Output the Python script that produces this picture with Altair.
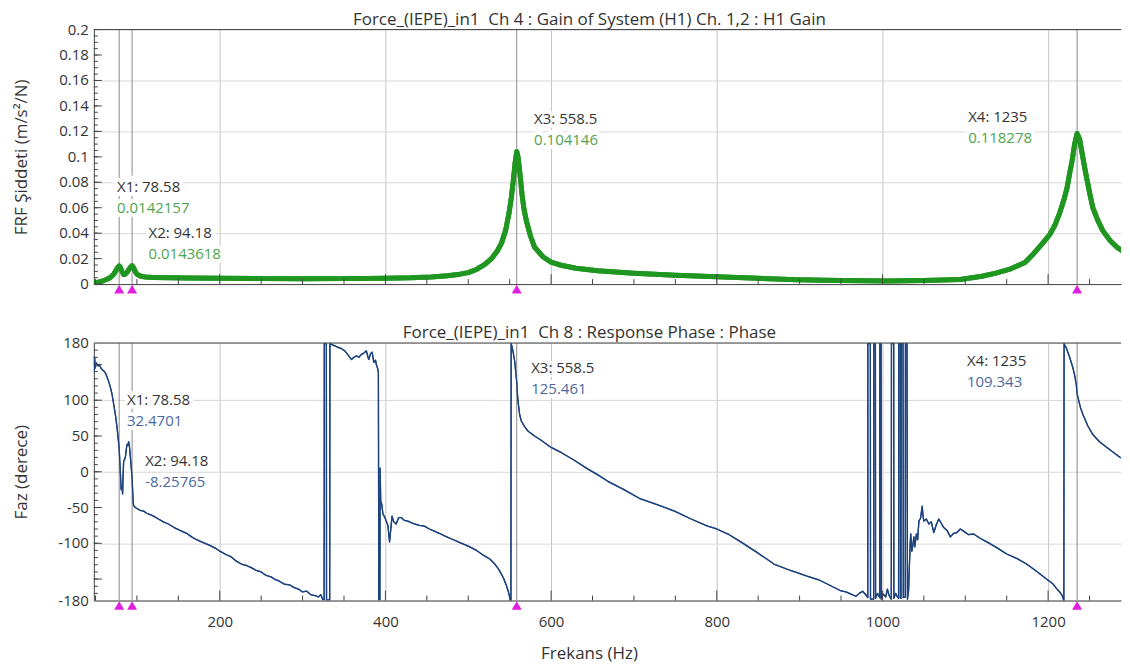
import altair as alt
import pandas as pd

FONT = "Open Sans"

# ---------------- data ----------------
mag_freq = [48, 52, 56, 60, 64, 68, 72, 75, 77, 78.58, 80, 82, 84, 86, 88, 90, 92, 94.18, 96, 98,
            100, 104, 110, 120, 140, 160, 200, 250, 300, 350, 400, 430, 455, 475, 490, 500, 510,
            520, 528, 535, 540, 545, 549, 552, 554.5, 556.5, 558.5, 560, 561.5, 563, 565, 567, 570,
            575, 580, 590, 600, 612, 630, 656, 700, 750, 800, 850, 896, 950, 1006, 1050, 1094,
            1120, 1137, 1155, 1172, 1182, 1192, 1202, 1208, 1214, 1219, 1223, 1226, 1229, 1232,
            1235, 1238, 1241, 1244, 1247, 1250, 1254, 1260, 1266, 1275, 1283, 1292, 1300]
mag_val = [0.0008, 0.0013, 0.002, 0.0028, 0.0038, 0.0052, 0.0078, 0.011, 0.0132, 0.0142, 0.0132,
           0.0098, 0.0075, 0.0078, 0.0092, 0.0112, 0.0132, 0.0144, 0.0128, 0.0098, 0.0078, 0.0063,
           0.0056, 0.0052, 0.0049, 0.0047, 0.0045, 0.0043, 0.0042, 0.0043, 0.0045, 0.0049, 0.0056,
           0.0065, 0.0078, 0.009, 0.0115, 0.0155, 0.02, 0.026, 0.032, 0.042, 0.055, 0.068, 0.082,
           0.095, 0.1041, 0.1, 0.092, 0.083, 0.07, 0.06, 0.05, 0.038, 0.029, 0.0215, 0.0172,
           0.0148, 0.0125, 0.0105, 0.0086, 0.007, 0.0057, 0.0045, 0.0035, 0.0028, 0.0024, 0.0028,
           0.0036, 0.0062, 0.0086, 0.012, 0.017, 0.0235, 0.031, 0.039, 0.046, 0.056, 0.066, 0.076,
           0.087, 0.097, 0.11, 0.1183, 0.114, 0.103, 0.092, 0.082, 0.072, 0.06, 0.05, 0.042, 0.034,
           0.029, 0.025, 0.022]

phase_freq = [48, 48.5, 49, 49.6, 51, 53, 55, 57, 60, 62, 64, 66, 68, 70, 72, 74, 76, 77.5, 78.58,
              79.5, 80.3, 81, 82, 82.7, 83.3, 84, 85, 86, 87, 88, 89, 90, 91, 92, 93, 94.18, 95,
              95.6, 96.5, 98, 101, 104, 108, 112, 116, 120, 126, 132, 138, 145, 152, 160, 166, 172,
              180, 188, 195, 200, 208, 214, 220, 226, 232, 238, 244, 250, 256, 262, 266, 272, 278,
              284, 290, 295, 300, 305, 310, 315, 319, 322, 324, 326, 326.2, 328.7, 328.9, 332.7,
              333, 335, 339, 343, 347, 351, 355, 359, 362, 365, 368, 371, 374, 377, 379, 380, 382,
              384, 386, 388, 389, 390.5, 391.5, 392, 393.3, 393.6, 394.3, 395.5, 397, 399, 401, 403,
              405, 406.5, 408, 410, 413, 416, 419, 423, 427, 431, 435, 441, 447, 453, 459, 465, 472,
              480, 490, 500, 510, 520, 526, 532, 536, 540, 543, 546, 548, 550, 551.5, 551.8, 553,
              554.5, 556, 557.3, 558.5, 559.3, 560, 562, 564, 568, 572, 580, 588, 600, 612, 628,
              644, 656, 668, 688, 708, 728, 749, 769, 789, 800, 815, 829, 849, 869, 889, 909, 923,
              937, 949, 956, 962, 968, 972, 976, 980, 982.3, 982.4, 985.4, 985.6, 989.4, 989.6,
              991.5, 991.7, 994, 996.7, 996.9, 998.3, 998.5, 1001, 1004, 1006, 1008, 1010.7,
              1010.9, 1013.6, 1013.8, 1016, 1018, 1019.5, 1019.7, 1021.6, 1021.8, 1022.4, 1022.6,
              1024.8, 1025, 1025.2, 1027.6, 1027.8, 1029.6, 1029.8, 1030.2, 1031.6, 1032.2, 1033.5,
              1034.2, 1035.5, 1037, 1038, 1039, 1041, 1042.5, 1044, 1046, 1048, 1049, 1050, 1053,
              1056, 1059, 1062, 1065, 1068, 1071, 1074, 1078, 1082, 1086, 1090, 1094, 1098, 1104,
              1110, 1118, 1126, 1138, 1150, 1162, 1174, 1186, 1198, 1206, 1210, 1214, 1217, 1219,
              1219.3, 1222, 1226, 1230, 1232, 1234, 1235, 1236, 1239, 1242, 1248, 1254, 1262, 1271,
              1279, 1287, 1300]
phase_val = [162, 140, 160, 145, 152, 148, 149, 144, 141, 138, 132, 126, 118, 108, 94, 80, 62, 45,
             32.47, 10, -8, -25, -20, -31, -5, 15, 17, 20, 30, 38, 37, 42, 35, 22, 8, -8.26, -31,
             -45, -48, -50, -52, -54, -55, -58, -60, -62, -66, -70, -73, -78, -82, -86, -91, -95,
             -99, -103, -107, -111, -116, -119, -125, -129, -131, -134, -138, -140, -145, -147,
             -150, -153, -157, -158, -162, -164, -168, -167, -172, -173, -175, -172, -178, -179,
             179, 179, -179, -179, 179, 178, 176, 174, 172, 169, 163, 157, 160, 162, 160, 164, 166,
             169, 160, 157, 165, 167, 153, 156, 150, 145, 139, -179, -179, 5, -41, -45, -59, -63,
             -69, -75, -98, -80, -62, -70, -73, -64, -64, -68, -69, -71, -73, -75, -76, -80, -83,
             -86, -90, -94, -99, -104, -110, -118, -122, -129, -135, -143, -150, -159, -166, -175,
             -180, 179, 174, 165, 155, 140, 125.46, 110, 99, 80, 71, 63, 57, 50, 44, 34, 27, 16, 4,
             -4, -13, -25, -38, -46, -55, -66, -76, -80, -88, -98, -113, -129, -138, -146, -151,
             -159, -166, -168, -171, -174, -170, -167, -172, -176, 179, 179, -178, -178, 179, 179,
             -177, -170, -176, 179, 179, -178, -171, -175, -164, -173, -178, 179, 179, -177, -170,
             -175, -177, 179, 179, -176, -177, 179, 179, 76, -176, -175, 179, 179, 76, -178, -165,
             -143, -100, -87, -111, -100, -91, -105, -87, -95, -69, -65, -48, -62, -69, -66, -73,
             -70, -85, -74, -66, -72, -78, -82, -91, -86, -85, -80, -83, -88, -87, -93, -98, -106,
             -115, -121, -129, -139, -150, -157, -163, -168, -173, -180, 179, 173, 160, 145, 135,
             122, 109.34, 104, 90, 80, 64, 52, 42, 34, 27, 20, 12]

marker_names = ["X1", "X2", "X3", "X4"]
marker_freq = [78.58, 94.18, 558.5, 1235]
marker_gain_text = ["0.0142157", "0.0143618", "0.104146", "0.118278"]
marker_phase_text = ["32.4701", "-8.25765", "125.461", "109.343"]
marker_freq_text = ["78.58", "94.18", "558.5", "1235"]

gain_label_freq = [76, 114, 579.5, 1103.5]
gain_label_level = [0.0761, 0.0402, 0.1296, 0.1314]
phase_label_freq = [88, 110, 576, 1102]
phase_label_level = [100.3, 15.1, 145.5, 154.7]

top_title = "Force_(IEPE)_in1\u00a0 Ch 4 : Gain of System (H1) Ch. 1,2 : H1 Gain"
bot_title = "Force_(IEPE)_in1\u00a0 Ch 8 : Response Phase : Phase"

x_label_vals = [200, 400, 600, 800, 1000, 1200]
x_minor_ticks = list(range(50, 1300, 50))
top_y_vals = [0, 0.02, 0.04, 0.06, 0.08, 0.1, 0.12, 0.14, 0.16, 0.18, 0.2]
top_y_labels = ["0", "0.02", "0.04", "0.06", "0.08", "0.1", "0.12", "0.14", "0.16", "0.18", "0.2"]
top_y_minor = [i * 0.005 for i in range(1, 40)]
bot_grid_vals = [-180, -150, -100, -50, 0, 50, 100, 150, 180]
bot_y_vals = [-180, -100, -50, 0, 50, 100, 180]
bot_y_labels = ["-180", "-100", "-50", "0", "50", "100", "180"]
bot_y_minor = list(range(-170, 180, 10))

# ---------------- layout ----------------
W = 1029
H_TOP = 255
H_BOT = 258
GREEN = "#1f961f"
GREEN_TXT = "#4fa44f"
BLUE = "#1d437f"
BLUE_TXT = "#4a68a0"
MAGENTA = "#e01ee0"
MARK_LINE = "#8a8a8a"
TXT = "#333333"

xs = alt.Scale(domain=[48, 1288], nice=False, zero=False)
ys_top = alt.Scale(domain=[0, 0.2], nice=False, zero=False)
ys_bot = alt.Scale(domain=[-180, 180], nice=False, zero=False)

mag_df = pd.DataFrame({"f": mag_freq, "v": mag_val})
ph_df = pd.DataFrame({"f": phase_freq, "v": phase_val})
mk_df = pd.DataFrame({"f": marker_freq})
lab_top = pd.DataFrame({
    "f": gain_label_freq, "v": gain_label_level,
    "name": [f"{n}: {t}" for n, t in zip(marker_names, marker_freq_text)],
    "val": marker_gain_text,
})
lab_bot = pd.DataFrame({
    "f": phase_label_freq, "v": phase_label_level,
    "name": [f"{n}: {t}" for n, t in zip(marker_names, marker_freq_text)],
    "val": marker_phase_text,
})
xt_minor = pd.DataFrame({"f": [t for t in x_minor_ticks if t % 200 != 0]})
xt_major = pd.DataFrame({"f": [t for t in x_minor_ticks if t % 200 == 0]})


def panel(df, ys, H, grid_vals, lab_vals, lab_txt, y_minor, y_major_ticks, color, width,
          title_y, title_text, lab_df, val_color, bottom_axis, top_value):
    if bottom_axis:
        xaxis = alt.Axis(values=x_label_vals, format="d", labels=True, ticks=False, grid=True,
                         gridColor="#c4c4c4", domainColor="#444", labelPadding=14,
                         labelOverlap=False, title="Frekans (Hz)", titlePadding=16,
                         titleX=496, titleAlign="center", titleFontSize=17)
    else:
        xaxis = alt.Axis(values=x_label_vals, labels=False, ticks=False, grid=True,
                         gridColor="#c4c4c4", domainColor="#444", title=None)
    yaxis = alt.Axis(values=grid_vals, labels=False, ticks=False, grid=True,
                     gridColor="#d8d8d8", domainColor="#444",
                     title=title_y, titleX=-72, titleBaseline="middle", titleFontSize=17)

    rules = alt.Chart(mk_df).mark_rule(color=MARK_LINE, strokeWidth=1).encode(
        x=alt.X("f:Q", scale=xs))
    line = alt.Chart(df).mark_line(color=color, strokeWidth=width, clip=True,
                                   strokeJoin="round").encode(
        x=alt.X("f:Q", scale=xs, axis=xaxis, title="Frekans (Hz)" if bottom_axis else None),
        y=alt.Y("v:Q", scale=ys, axis=yaxis, title=title_y),
    )
    border = alt.Chart(pd.DataFrame({"v": [top_value]})).mark_rule(
        color="#444", strokeWidth=1).encode(y=alt.Y("v:Q", scale=ys))
    xt1 = alt.Chart(xt_minor).mark_rule(color="#444").encode(
        x=alt.X("f:Q", scale=xs), y=alt.value(H), y2=alt.value(H - 5))
    xt2 = alt.Chart(xt_major).mark_rule(color="#444").encode(
        x=alt.X("f:Q", scale=xs), y=alt.value(H), y2=alt.value(H - 10))
    yt1 = alt.Chart(pd.DataFrame({"v": y_minor})).mark_rule(color="#444").encode(
        y=alt.Y("v:Q", scale=ys), x=alt.value(0), x2=alt.value(4))
    yt2 = alt.Chart(pd.DataFrame({"v": y_major_ticks})).mark_rule(color="#444").encode(
        y=alt.Y("v:Q", scale=ys), x=alt.value(0), x2=alt.value(8))
    ylab = alt.Chart(pd.DataFrame({"v": lab_vals, "t": lab_txt})).mark_text(
        align="right", baseline="middle", font=FONT, fontSize=15, color=TXT).encode(
        y=alt.Y("v:Q", scale=ys), x=alt.value(-5), text="t:N")
    tri = alt.Chart(mk_df).mark_point(shape="triangle-up", filled=True, size=100,
                                      color=MAGENTA, opacity=1).encode(
        x=alt.X("f:Q", scale=xs), y=alt.value(H + 5))
    tb = alt.Chart(lab_df)
    enc = dict(x=alt.X("f:Q", scale=xs), y=alt.Y("v:Q", scale=ys))
    halo1 = tb.mark_text(align="left", baseline="middle", font=FONT, fontSize=15,
                         color="white", stroke="white", strokeWidth=8).encode(
        text="name:N", **enc)
    halo2 = tb.mark_text(align="left", baseline="middle", font=FONT, fontSize=15, dy=21,
                         color="white", stroke="white", strokeWidth=8).encode(
        text="val:N", **enc)
    t1 = tb.mark_text(align="left", baseline="middle", font=FONT, fontSize=15,
                      color=TXT).encode(text="name:N", **enc)
    t2 = tb.mark_text(align="left", baseline="middle", font=FONT, fontSize=15, dy=21,
                      color=val_color).encode(text="val:N", **enc)

    return alt.layer(line, rules, line, border, xt1, xt2, yt1, yt2, ylab, tri,
                     halo1, halo2, t1, t2).properties(
        width=W, height=H,
        title=alt.TitleParams(title_text, fontSize=17, font=FONT, fontWeight="normal",
                              color=TXT, anchor="middle", dx=-18, offset=-6),
    )


top = panel(mag_df, ys_top, H_TOP, top_y_vals, top_y_vals, top_y_labels, top_y_minor,
            top_y_vals, GREEN, 5, "FRF Şiddeti (m/s²/N)", top_title, lab_top, GREEN_TXT,
            False, 0.2)
bottom = panel(ph_df, ys_bot, H_BOT, bot_grid_vals, bot_y_vals, bot_y_labels, bot_y_minor,
               [-150, -100, -50, 0, 50, 100, 150], BLUE, 1.3, "Faz (derece)", bot_title,
               lab_bot, BLUE_TXT, True, 180)

chart = alt.vconcat(top, bottom, spacing=30).properties(
    padding={"left": 4, "top": 2, "right": 0, "bottom": 3},
    background="white",
).configure_view(stroke=None).configure_axis(
    labelFont=FONT, labelFontSize=15, labelColor=TXT,
    titleFont=FONT, titleFontSize=15, titleFontWeight="normal", titleColor=TXT,
)

chart.save("out.html", embed_options={"renderer": "svg", "actions": False})
